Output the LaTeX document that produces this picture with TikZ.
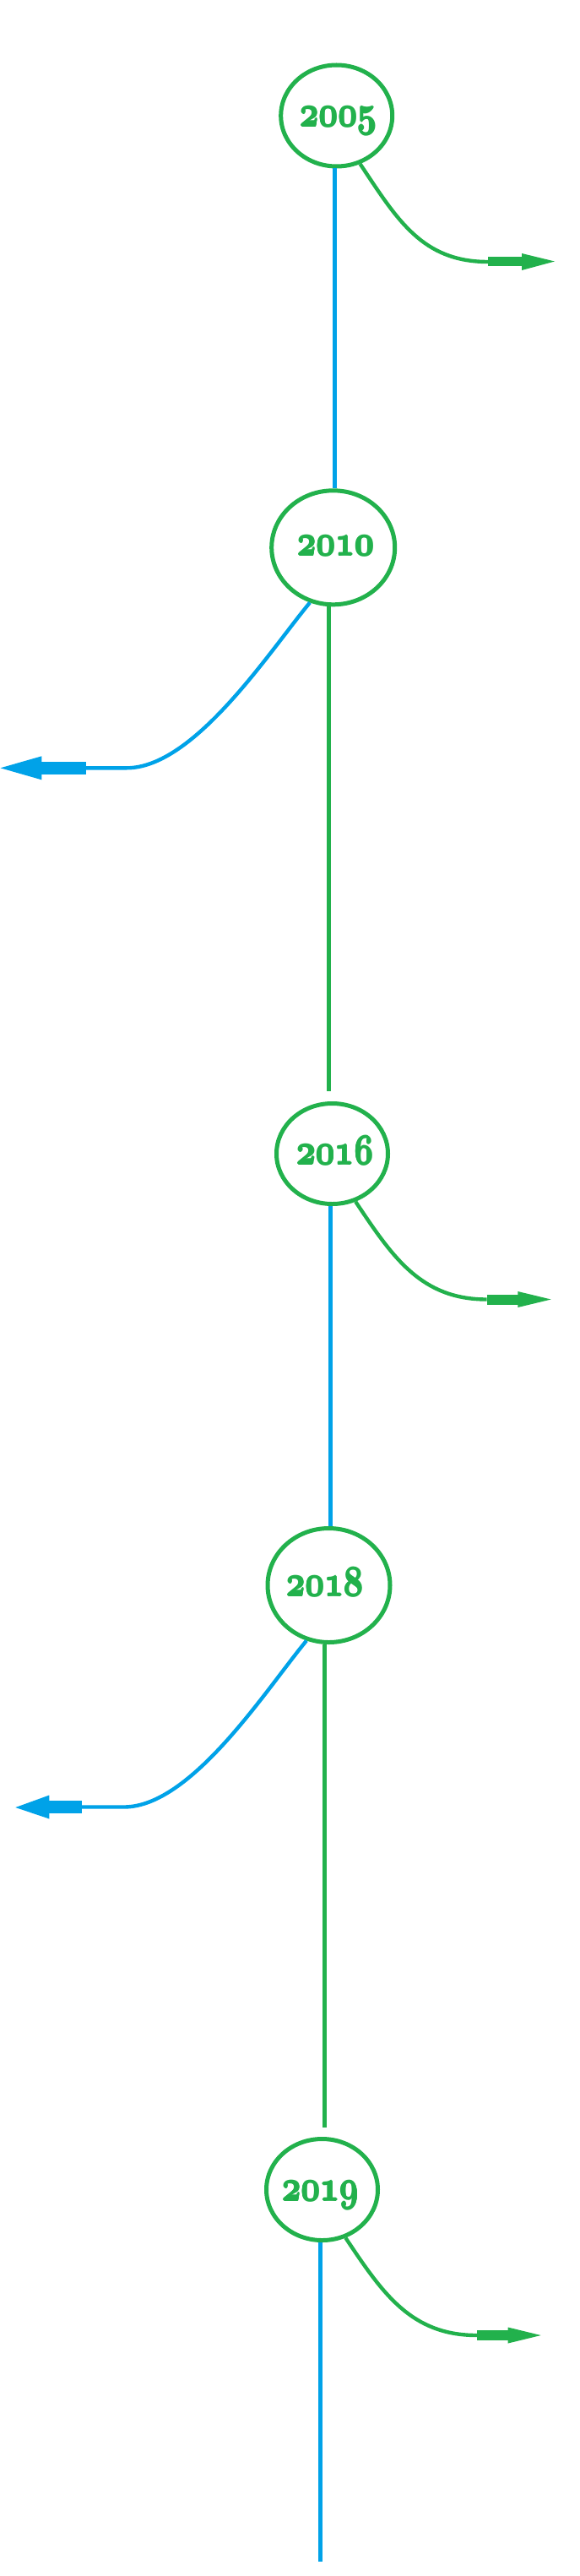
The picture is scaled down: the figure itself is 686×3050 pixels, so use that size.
\RequirePackage{fix-cm}
\documentclass[tikz,border=0pt]{standalone}
\usetikzlibrary{shapes.geometric}
\definecolor{pgreen}{HTML}{22B14C}
\definecolor{pblue}{HTML}{00A2E8}
\newcommand\yrfont{\fontsize{23}{23}\usefont{OML}{cmm}{b}{it}}
\newcommand\fakebold[1]{\leavevmode\rlap{#1}\rlap{\kern0.7pt#1}\rlap{\kern0.35pt\raisebox{0.4pt}{#1}}\rlap{\kern0.35pt\raisebox{-0.4pt}{#1}}\kern0.35pt#1\kern0.35pt}
\newcommand\yr[1]{\scalebox{0.86}[1.1]{\fakebold{#1}}}
\begin{document}
\begin{tikzpicture}[x=0.5pt,y=-0.5pt,
  yearbox/.style={ellipse, draw=pgreen, line width=2.5pt, inner sep=0pt},
  yeartext/.style={text=pgreen, font=\yrfont, inner sep=0pt, text height=11.2pt, text depth=0pt},
  bline/.style={draw=pblue, line width=2.5pt},
  gline/.style={draw=pgreen, line width=2.5pt},
  bcurve/.style={draw=pblue, line width=2.2pt},
  gcurve/.style={draw=pgreen, line width=2.2pt},
  gshaft/.style={draw=pgreen, line width=5.5pt},
  bshaft/.style={draw=pblue, line width=7.5pt}]
\useasboundingbox (0,0) rectangle (686,3050);

% year ellipses
\node[yearbox, minimum width=66pt, minimum height=60pt] (A) at (398.7,137) {};
\node[yearbox, minimum width=73pt, minimum height=67.5pt] (B) at (394.7,648.3) {};
\node[yearbox, minimum width=66pt, minimum height=59.5pt] (C) at (393.5,1366) {};
\node[yearbox, minimum width=72.5pt, minimum height=67.5pt] (D) at (389.5,1877) {};
\node[yearbox, minimum width=66pt, minimum height=60pt] (E) at (381.5,2592.5) {};

\node[yeartext] (yA) at ([xshift=1pt,yshift=-0.8pt]A.center) {\yr{2005}};
\node[yeartext] (yB) at ([xshift=1.5pt,yshift=1pt]B.center) {\yr{2010}};
\node[yeartext] (yC) at ([xshift=1.7pt,yshift=-0.8pt]C.center) {\yr{2016}};
\node[yeartext] (yD) at ([xshift=-2.4pt,yshift=-0.6pt]D.center) {\yr{2018}};
\node[yeartext] (yE) at ([xshift=-1pt,yshift=-0.8pt]E.center) {\yr{2019}};

% vertical connectors
\coordinate (ab) at (396.5,0);
\coordinate (gBC) at (389.3,1292);
\coordinate (cd) at (391,0);
\coordinate (gDE) at (384.5,2519);
\coordinate (eEnd) at (379.3,3032.7);
\draw[bline] (A.south -| ab) -- (B.north -| ab);
\draw[gline] (B.south -| gBC) -- (gBC);
\draw[bline] (C.south -| cd) -- (D.north -| cd);
\draw[gline] (D.south -| gDE) -- (gDE);
\draw[bline] (E.south -| eEnd) -- (eEnd);

% 2005 arrow (right, green)
\coordinate (sA) at (578,310);
\coordinate (hA) at (618,310);
\coordinate (tipA) at (657,309.5);
\draw[gcurve] (A.-64) .. controls +(44,66) and +(-78,0) .. (sA);
\draw[gshaft] (sA) -- ([xshift=0.5pt]hA);
\fill[pgreen] (tipA) -- ([yshift=5pt]hA) -- ([yshift=-5pt]hA) -- cycle;

% 2010 arrow (left, blue)
\coordinate (cB) at (150,909.3);
\coordinate (sB) at (102,909.3);
\coordinate (hB) at (49.3,909.3);
\coordinate (tipB) at (0.5,909.3);
\draw[bcurve] (B.-113) .. controls +(-48,58) and +(80,0) .. (cB) -- (sB);
\draw[bshaft] (sB) -- ([xshift=-0.5pt]hB);
\fill[pblue] (tipB) -- ([yshift=7pt]hB) -- ([yshift=-7pt]hB) -- cycle;

% 2016 arrow (right, green)
\coordinate (sC) at (576.7,1538.5);
\coordinate (hC) at (613.3,1538.5);
\coordinate (tipC) at (652.7,1538.5);
\draw[gcurve] (C.-64) .. controls +(44,66) and +(-78,0) .. (sC);
\draw[draw=pgreen, line width=6pt] (sC) -- ([xshift=0.5pt]hC);
\fill[pgreen] (tipC) -- ([yshift=4.75pt]hC) -- ([yshift=-4.75pt]hC) -- cycle;

% 2018 arrow (left, blue)
\coordinate (cD) at (146.7,2139.5);
\coordinate (sD) at (96.7,2139.5);
\coordinate (hD) at (58.3,2139.5);
\coordinate (tipD) at (18.3,2140);
\draw[bcurve] (D.-112) .. controls +(-48,58) and +(80,0) .. (cD) -- (sD);
\draw[bshaft] (sD) -- ([xshift=-0.5pt]hD);
\fill[pblue] (tipD) -- ([yshift=7pt]hD) -- ([yshift=-7pt]hD) -- cycle;

% 2019 arrow (right, green)
\coordinate (sE) at (565,2765);
\coordinate (hE) at (601.7,2765);
\coordinate (tipE) at (640.7,2765);
\draw[gcurve] (E.-64) .. controls +(44,66) and +(-78,0) .. (sE);
\draw[draw=pgreen, line width=6pt] (sE) -- ([xshift=0.5pt]hE);
\fill[pgreen] (tipE) -- ([yshift=4.75pt]hE) -- ([yshift=-4.75pt]hE) -- cycle;
\end{tikzpicture}
\end{document}
